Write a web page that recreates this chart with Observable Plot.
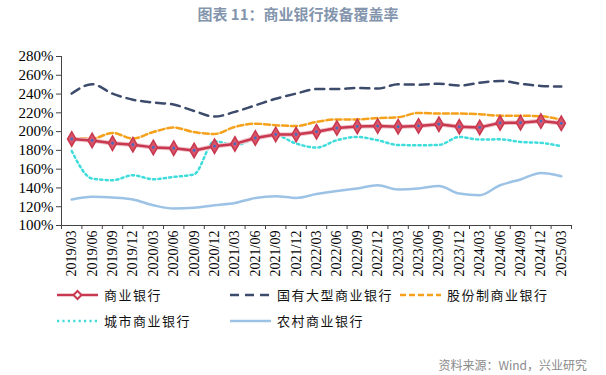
<!DOCTYPE html>
<html>
<head>
<meta charset="utf-8">
<script src="https://cdn.jsdelivr.net/npm/d3@7"></script>
<script src="https://cdn.jsdelivr.net/npm/@observablehq/plot@0.6"></script>
<style>
  html, body { margin: 0; padding: 0; background: #fff; }
  #wrap { position: relative; width: 606px; height: 375px; overflow: hidden; }
  #title { position: absolute; top: 3px; left: 0; width: 596px; text-align: center;
           font-family: "Noto Sans CJK SC", sans-serif; font-weight: bold; font-size: 15px; color: #8395ad; }
  #chart { position: absolute; top: 0; left: 0; }
  .leg { position: absolute; display: flex; align-items: center; font-family: "Noto Sans CJK SC", sans-serif;
         font-size: 13px; letter-spacing: 1.5px; color: #111; }
  .leg svg { margin-right: 6px; }
  #source { position: absolute; right: 19px; top: 356px; font-family: "Noto Sans CJK SC", sans-serif;
            font-size: 12px; color: #8a8a8a; }
</style>
</head>
<body>
<div id="wrap">
  <div id="title">图表 11：商业银行拨备覆盖率</div>
  <div id="chart"></div>
  <div id="legend"></div>
  <div id="source">资料来源：Wind，兴业研究</div>
</div>
<script>
const categories = ["2019/03","2019/06","2019/09","2019/12","2020/03","2020/06","2020/09","2020/12",
  "2021/03","2021/06","2021/09","2021/12","2022/03","2022/06","2022/09","2022/12",
  "2023/03","2023/06","2023/09","2023/12","2024/03","2024/06","2024/09","2024/12","2025/03"];
const commercial = [192.2,190.6,187.6,186.1,183.2,182.4,179.9,184.5,186.9,193.2,197.0,196.9,199.9,203.8,205.5,205.9,205.2,206.1,207.9,205.1,204.5,209.3,209.5,211.2,208.8];
const stateOwned = [240.5,250.4,240.5,234.0,231.0,228.8,222.0,216.0,221.0,228.0,235.0,240.5,245.3,245.3,246.5,245.8,250.4,250.0,251.0,249.0,252.0,254.0,251.0,248.6,248.0];
const jointStock = [192.6,192.6,198.6,192.6,199.6,204.3,199.5,197.5,205.0,208.5,206.8,206.0,210.3,213.0,213.0,214.5,215.3,219.9,219.2,219.2,218.5,217.0,217.0,216.3,212.8];
const cityBanks  = [179.4,150.0,148.2,153.5,149.3,151.7,154.5,189.7,185.5,192.6,196.0,187.3,183.0,190.8,194.3,190.8,185.8,185.5,185.8,194.3,191.5,191.8,189.0,188.0,184.4];
const ruralBanks = [127.7,130.5,129.8,127.7,121.6,118.1,118.8,121.6,124.0,129.4,131.2,129.4,133.5,136.8,139.4,142.9,138.3,139.4,142.2,134.0,132.3,142.9,149.0,156.0,152.5];
const yTicks = [100,120,140,160,180,200,220,240,260,280];

const styles = {
  "商业银行":       {stroke: "#c8384f", dash: null,  w: 2.6},
  "国有大型商业银行": {stroke: "#3c4b6b", dash: "9,6", w: 2.5},
  "股份制商业银行":   {stroke: "#f5a11c", dash: "6,3", w: 2.5},
  "城市商业银行":     {stroke: "#3fdcdc", dash: "2.2,3.2", w: 2.5},
  "农村商业银行":     {stroke: "#9cc2e5", dash: null,  w: 2.5}
};
const idx = d3.range(categories.length);
const toRows = arr => idx.map(i => ({i, v: arr[i]}));
const boundaries = d3.range(categories.length + 1).map(k => k - 0.5);

const serif = "'Liberation Serif', 'Times New Roman', serif";

const chart = Plot.plot({
  width: 606, height: 290,
  marginTop: 56, marginBottom: 65, marginLeft: 61, marginRight: 35,
  style: {fontFamily: serif, color: "#000", background: "transparent"},
  x: {type: "linear", domain: [-0.5, categories.length - 0.5], label: null},
  y: {domain: [100, 280], label: null},
  marks: [
    Plot.axisY(yTicks, {tickSize: 5, tickPadding: 3, fontSize: 15, tickFormat: d => d + "%", stroke: "#444", label: null}),
    Plot.axisX(boundaries, {tickSize: 4, tickFormat: () => "", stroke: "#444", label: null}),
    Plot.axisX(idx, {tickSize: 0, tickPadding: 5, tickRotate: -90, fontSize: 14, tickFormat: i => categories[i], label: null}),
    Plot.ruleX([-0.5], {stroke: "#444"}),
    Plot.ruleY([100], {stroke: "#444"}),
    Plot.line(toRows(ruralBanks), {x: "i", y: "v", stroke: styles["农村商业银行"].stroke, strokeWidth: 2.5, curve: "monotone-x"}),
    Plot.line(toRows(cityBanks), {x: "i", y: "v", stroke: styles["城市商业银行"].stroke, strokeWidth: 2.5, strokeDasharray: styles["城市商业银行"].dash, curve: "monotone-x"}),
    Plot.line(toRows(jointStock), {x: "i", y: "v", stroke: styles["股份制商业银行"].stroke, strokeWidth: 2.5, strokeDasharray: styles["股份制商业银行"].dash, curve: "monotone-x"}),
    Plot.line(toRows(stateOwned), {x: "i", y: "v", stroke: styles["国有大型商业银行"].stroke, strokeWidth: 2.5, strokeDasharray: styles["国有大型商业银行"].dash, curve: "monotone-x"}),
    Plot.line(toRows(commercial), {x: "i", y: "v", stroke: "#f1c3cb", strokeWidth: 4.5, curve: "linear"}),
    Plot.line(toRows(commercial), {x: "i", y: "v", stroke: styles["商业银行"].stroke, strokeWidth: 2.5, curve: "linear"}),
    Plot.dot(toRows(commercial), {x: "i", y: "v", symbol: "diamond", r: 4.4, fill: "#d9556a", stroke: "#c8384f", strokeWidth: 1.5}),
    Plot.dot(toRows(commercial), {x: "i", y: "v", r: 1.4, fill: "#3f6fc4", stroke: "none"})
  ]
});
document.getElementById("chart").appendChild(chart);

// Legend
const legendPos = [
  {name: "商业银行", x: 57, y: 285},
  {name: "国有大型商业银行", x: 230, y: 285},
  {name: "股份制商业银行", x: 400, y: 285},
  {name: "城市商业银行", x: 57, y: 311},
  {name: "农村商业银行", x: 230, y: 311}
];
const legend = document.getElementById("legend");
for (const p of legendPos) {
  const s = styles[p.name];
  const div = document.createElement("div");
  div.className = "leg";
  div.style.left = p.x + "px";
  div.style.top = p.y + "px";
  const svg = d3.create("svg").attr("width", 41).attr("height", 18);
  svg.append("line").attr("x1", 0).attr("x2", 41).attr("y1", 9).attr("y2", 9)
    .attr("stroke", s.stroke).attr("stroke-width", s.w).attr("stroke-dasharray", s.dash);
  if (p.name === "商业银行") {
    svg.append("path").attr("d", "M20.5,5 L24.5,9 L20.5,13 L16.5,9 Z")
      .attr("fill", "#fff").attr("stroke", s.stroke).attr("stroke-width", 2);
  }
  div.appendChild(svg.node());
  const span = document.createElement("span");
  span.textContent = p.name;
  div.appendChild(span);
  legend.appendChild(div);
}
</script>
</body>
</html>
